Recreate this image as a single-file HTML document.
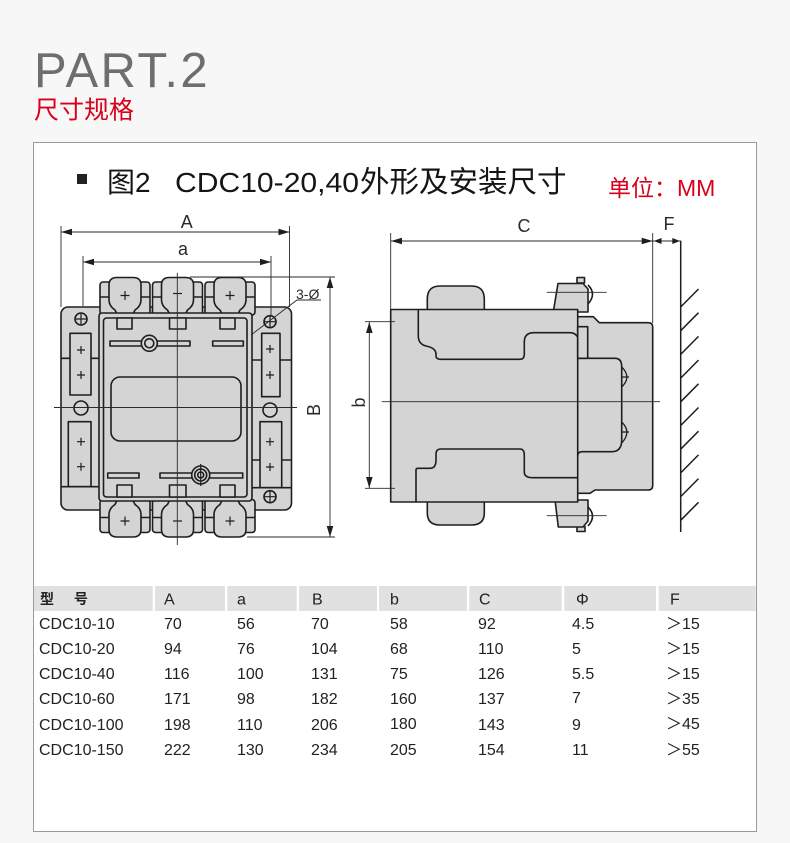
<!DOCTYPE html>
<html><head><meta charset="utf-8">
<style>
html,body{margin:0;padding:0;}
body{width:790px;height:843px;background:#f7f7f7;position:relative;overflow:hidden;}
svg{position:absolute;left:0;top:0;}
text{font-family:"Liberation Sans","Noto Sans CJK SC",sans-serif;}
</style></head><body>
<svg width="790" height="843" viewBox="0 0 790 843" xmlns="http://www.w3.org/2000/svg">
<!-- panel -->
<rect x="33.5" y="142.5" width="723" height="689" fill="#fff" stroke="#9a9a9a" stroke-width="1"/>

<!-- headings -->
<text x="34" y="87" font-size="49" fill="#6e6e6e" letter-spacing="2.4">PART.2</text>
<text x="34" y="118.5" font-size="25" fill="#d9001b">尺寸规格</text>
<rect x="77" y="174" width="10" height="10" fill="#222"/>
<text x="107" y="192" font-size="28" fill="#151515">图2</text>
<text x="175" y="192" font-size="28" fill="#151515" textLength="184" lengthAdjust="spacingAndGlyphs">CDC10-20,40</text>
<text x="360" y="192" font-size="29.5" fill="#151515">外形及安装尺寸</text>
<text x="608" y="196" font-size="23" fill="#d9001b">单位：MM</text>

<!-- ================= LEFT (front) VIEW ================= -->
<g fill="#d4d4d4" stroke="#1e1e1e" stroke-width="1.6" stroke-linejoin="round">
  <rect x="61" y="307" width="230.5" height="203" rx="7"/>
  <!-- top terminals -->
  <g transform="translate(125,0)">
    <rect x="-25" y="282" width="50" height="33" rx="3"/>
    <path d="M-16,300 V285 Q-16,277.5 -8,277.5 H8 Q16,277.5 16,285 V300 Q16,306 10,310 L8,314 H-8 L-10,310 Q-16,306 -16,300 Z"/>
    <path d="M-25,297 H-16 M16,297 H25" fill="none"/>
    <path d="M-4.5,295.5 H4.5 M0,291 V300" fill="none" stroke-width="1.2"/>
  </g>
  <g transform="translate(177.5,0)">
    <rect x="-25" y="282" width="50" height="33" rx="3"/>
    <path d="M-16,300 V285 Q-16,277.5 -8,277.5 H8 Q16,277.5 16,285 V300 Q16,306 10,310 L8,314 H-8 L-10,310 Q-16,306 -16,300 Z"/>
    <path d="M-25,297 H-16 M16,297 H25" fill="none"/>
    <path d="M-4.5,293.5 H4.5" fill="none" stroke-width="1.2"/>
  </g>
  <g transform="translate(230,0)">
    <rect x="-25" y="282" width="50" height="33" rx="3"/>
    <path d="M-16,300 V285 Q-16,277.5 -8,277.5 H8 Q16,277.5 16,285 V300 Q16,306 10,310 L8,314 H-8 L-10,310 Q-16,306 -16,300 Z"/>
    <path d="M-25,297 H-16 M16,297 H25" fill="none"/>
    <path d="M-4.5,295.5 H4.5 M0,291 V300" fill="none" stroke-width="1.2"/>
  </g>
  <!-- bottom terminals (mirrored) -->
  <g transform="translate(125,814.5) scale(1,-1)">
    <rect x="-25" y="282" width="50" height="33" rx="3"/>
    <path d="M-16,300 V285 Q-16,277.5 -8,277.5 H8 Q16,277.5 16,285 V300 Q16,306 10,310 L8,314 H-8 L-10,310 Q-16,306 -16,300 Z"/>
    <path d="M-25,297 H-16 M16,297 H25" fill="none"/>
    <path d="M-4.5,293.5 H4.5 M0,289 V298" fill="none" stroke-width="1.2"/>
  </g>
  <g transform="translate(177.5,814.5) scale(1,-1)">
    <rect x="-25" y="282" width="50" height="33" rx="3"/>
    <path d="M-16,300 V285 Q-16,277.5 -8,277.5 H8 Q16,277.5 16,285 V300 Q16,306 10,310 L8,314 H-8 L-10,310 Q-16,306 -16,300 Z"/>
    <path d="M-25,297 H-16 M16,297 H25" fill="none"/>
    <path d="M-4.5,293.5 H4.5" fill="none" stroke-width="1.2"/>
  </g>
  <g transform="translate(230,814.5) scale(1,-1)">
    <rect x="-25" y="282" width="50" height="33" rx="3"/>
    <path d="M-16,300 V285 Q-16,277.5 -8,277.5 H8 Q16,277.5 16,285 V300 Q16,306 10,310 L8,314 H-8 L-10,310 Q-16,306 -16,300 Z"/>
    <path d="M-25,297 H-16 M16,297 H25" fill="none"/>
    <path d="M-4.5,293.5 H4.5 M0,289 V298" fill="none" stroke-width="1.2"/>
  </g>

  <!-- main body -->
  <rect x="99" y="313" width="153" height="188" rx="3"/>
  <rect x="103.5" y="318" width="143.5" height="179" rx="3"/>
  <rect x="117" y="318" width="15" height="11"/>
  <rect x="169.5" y="318" width="16.5" height="11"/>
  <rect x="220" y="318" width="15" height="11"/>
  <rect x="117" y="485" width="15" height="12"/>
  <rect x="169.5" y="485" width="16.5" height="12"/>
  <rect x="220" y="485" width="15" height="12"/>
  <rect x="110" y="341" width="80" height="5"/>
  <rect x="212.7" y="341" width="30.6" height="5"/>
  <circle cx="149.3" cy="343.3" r="8"/>
  <circle cx="149.3" cy="343.3" r="4.5"/>
  <rect x="107.7" y="473" width="31.3" height="5"/>
  <rect x="160" y="473" width="82.7" height="5"/>
  <circle cx="200.7" cy="475" r="9"/>
  <circle cx="200.7" cy="475" r="6"/>
  <circle cx="200.7" cy="475" r="3"/>
  <rect x="111" y="377" width="130" height="64" rx="9"/>

  <!-- left column -->
  <rect x="70" y="333.3" width="21" height="61.7"/>
  <rect x="68.3" y="421.7" width="22.7" height="65"/>
  <path d="M61,358.3 H70 M91,358.3 H99 M61,486.7 H99" fill="none"/>
  <circle cx="81" cy="319" r="6"/>
  <circle cx="81" cy="408" r="7"/>
  <!-- right column -->
  <rect x="261.7" y="333.3" width="18.3" height="63.4"/>
  <rect x="260" y="421.7" width="21.7" height="66"/>
  <path d="M251.7,360 H261.7 M280,360 H291 M251.7,460 H260 M281.7,460 H291 M251.7,487.7 H291" fill="none"/>
  <circle cx="270" cy="321.7" r="6"/>
  <circle cx="270" cy="410" r="7"/>
  <circle cx="270" cy="496.7" r="6"/>
</g>
<g stroke="#1e1e1e" stroke-width="1.2" fill="none">
  <path d="M75,319 H87 M81,313 V325"/>
  <path d="M264,321.7 H276 M270,315.7 V327.7"/>
  <path d="M264,496.7 H276 M270,490.7 V502.7"/>
  <path d="M77,350 H85 M81,346 V354"/>
  <path d="M77,375 H85 M81,371 V379"/>
  <path d="M77,441.7 H85 M81,437.7 V445.7"/>
  <path d="M77,466.7 H85 M81,462.7 V470.7"/>
  <path d="M266,349 H274 M270,345 V353"/>
  <path d="M266,375 H274 M270,371 V379"/>
  <path d="M266,441.7 H274 M270,437.7 V445.7"/>
  <path d="M266,467 H274 M270,463 V471"/>
  <path d="M200.7,464 V486"/>
</g>
<!-- dimension / centre lines (left) -->
<g stroke="#2a2a2a" stroke-width="0.9" fill="none">
  <path d="M177.3,272.7 V545"/>
  <path d="M54,407.5 H297"/>
  <path d="M61,226 V307 M289.5,226 V307"/>
  <path d="M83,256 V306 M271,256 V316"/>
  <path d="M190,277 H335 M247,537 H335"/>
  <path d="M61,232 H289.5"/>
  <path d="M83,262 H271"/>
  <path d="M330,277 V537"/>
  <path d="M251,335 L297,300 H321"/>
</g>
<g fill="#1e1e1e">
  <polygon points="61,232 72,228.7 72,235.3"/>
  <polygon points="289.5,232 278.5,228.7 278.5,235.3"/>
  <polygon points="83,262 94,258.7 94,265.3"/>
  <polygon points="271,262 260,258.7 260,265.3"/>
  <polygon points="330,277 326.7,288 333.3,288"/>
  <polygon points="330,537 326.7,526 333.3,526"/>
</g>
<g fill="#2a2a2a" font-size="18">
  <text x="186.7" y="228" text-anchor="middle">A</text>
  <text x="183" y="255" text-anchor="middle">a</text>
  <text transform="translate(320,410) rotate(-90)" text-anchor="middle">B</text>
  <text x="296" y="299" font-size="14">3-Ø</text>
</g>

<!-- ================= RIGHT (side) VIEW ================= -->
<g fill="#d4d4d4" stroke="#1e1e1e" stroke-width="1.6" stroke-linejoin="round">
  <path d="M427.3,312 V299 Q427.3,286 440,286 H471.5 Q484.3,286 484.3,299 V312 Z"/>
  <path d="M427.3,500 V513 Q427.3,525 440,525 H471.5 Q484.3,525 484.3,513 V500 Z"/>
  <rect x="577" y="277.5" width="7.5" height="5.5"/>
  <path d="M553.3,312 L558,283.5 H583 L588,289 V312 Z"/>
  <path d="M588,285 Q597,294 588,304" fill="none"/>
  <rect x="577" y="526.5" width="8" height="5"/>
  <path d="M555,500 L558.3,527 H583 L588,521 V500 Z"/>
  <path d="M588,507 Q597,516 588,526" fill="none"/>
  <path d="M577.7,316.7 H593.3 L599.3,322.7 H648.3 Q652.7,322.7 652.7,327 V485.5 Q652.7,490 648,490 H595 L590,493.3 H577.7 Z"/>
  <rect x="390.7" y="309.5" width="187" height="192.5"/>
  <path d="M418.3,309.5 V336 Q418.3,344 426,346 Q436,348 436,354 V356 Q436,359.3 441,359.3 H520 Q524.3,359.3 524.3,354 V342 Q524.3,332.7 534,332.7 H570 Q575,332.7 577.7,337" fill="none"/>
  <path d="M416,502 V470 Q416,468.3 418,468.3 H430 Q436,468.3 436,460 V454 Q436,449 441,449 H520 Q524.3,449 524.3,455 V472 Q524.3,477.7 533,477.7 H577.7" fill="none"/>
  <rect x="577.7" y="326.7" width="10" height="31.6"/>
  <path d="M577.7,358.3 H615 Q621.7,358.3 621.7,366.7 V440 Q621.7,451.7 611.7,451.7 H582 Q577.7,451.7 577.7,456" fill="none"/>
  <path d="M621.7,367 Q632,377 621.7,387 M621.7,377 L629,377" fill="none" stroke-width="1.3"/>
  <path d="M621.7,422 Q632,432 621.7,443 M621.7,432 L629,432" fill="none" stroke-width="1.3"/>
</g>
<g stroke="#2a2a2a" stroke-width="0.9" fill="none">
  <path d="M391,241 H652.7"/>
  <path d="M390.7,233 V309.5 M652.7,233 V323"/>
  <path d="M652.7,241 H680.7"/>
  <path d="M381.7,401.7 H660"/>
  <path d="M369.3,322 V488"/>
  <path d="M365,321.7 H395 M365,488.3 H395"/>
  <path d="M546.7,292.3 H606.7 M546.7,515.7 H606.7"/>
</g>
<g stroke="#1e1e1e" stroke-width="1.5" fill="none">
  <path d="M680.7,240.7 V532"/>
  <path d="M680.7,307 L698.5,289 M680.7,330.7 L698.5,312.7 M680.7,354.4 L698.5,336.4 M680.7,378.1 L698.5,360.1 M680.7,401.8 L698.5,383.8 M680.7,425.5 L698.5,407.5 M680.7,449.2 L698.5,431.2 M680.7,472.9 L698.5,454.9 M680.7,496.6 L698.5,478.6 M680.7,520.3 L698.5,502.3"/>
</g>
<g fill="#1e1e1e">
  <polygon points="391,241 402,237.7 402,244.3"/>
  <polygon points="652.7,241 641.7,237.7 641.7,244.3"/>
  <polygon points="653.8,241 661.5,238 661.5,244"/>
  <polygon points="680,241 672.3,238 672.3,244"/>
  <polygon points="369.3,322 366,333 372.6,333"/>
  <polygon points="369.3,488 366,477 372.6,477"/>
</g>
<g fill="#2a2a2a" font-size="18">
  <text x="524" y="232" text-anchor="middle">C</text>
  <text x="669" y="230" text-anchor="middle">F</text>
  <text transform="translate(365,402.5) rotate(-90)" text-anchor="middle">b</text>
</g>

<!-- ================= TABLE ================= -->
<g fill="#e1e1e1">
  <rect x="34" y="586" width="118.7" height="25"/>
  <rect x="155" y="586" width="70" height="25"/>
  <rect x="227.3" y="586" width="69.4" height="25"/>
  <rect x="299" y="586" width="78" height="25"/>
  <rect x="379" y="586" width="88" height="25"/>
  <rect x="469.3" y="586" width="92.4" height="25"/>
  <rect x="564.3" y="586" width="91.7" height="25"/>
  <rect x="658.7" y="586" width="97" height="25"/>
</g>
<g fill="#222" font-size="16">
  <text x="40" y="604" font-size="14" font-weight="bold">型</text>
  <text x="74" y="604" font-size="14" font-weight="bold">号</text>
  <text x="164" y="604.5">A</text>
  <text x="237" y="604.5">a</text>
  <text x="312" y="604.5">B</text>
  <text x="390" y="604.5">b</text>
  <text x="479" y="604.5">C</text>
  <text x="576" y="604.5">Φ</text>
  <text x="670" y="604.5">F</text>

  <text x="39" y="629">CDC10-10</text><text x="164" y="629">70</text><text x="237" y="629">56</text><text x="311" y="629">70</text><text x="390" y="629">58</text><text x="478" y="629">92</text><text x="572" y="629">4.5</text><text x="666" y="629">＞15</text>
  <text x="39" y="654">CDC10-20</text><text x="164" y="654">94</text><text x="237" y="654">76</text><text x="311" y="654">104</text><text x="390" y="654">68</text><text x="478" y="654">110</text><text x="572" y="654">5</text><text x="666" y="654">＞15</text>
  <text x="39" y="679">CDC10-40</text><text x="164" y="679">116</text><text x="237" y="679">100</text><text x="311" y="679">131</text><text x="390" y="679">75</text><text x="478" y="679">126</text><text x="572" y="679">5.5</text><text x="666" y="679">＞15</text>
  <text x="39" y="704">CDC10-60</text><text x="164" y="704">171</text><text x="237" y="704">98</text><text x="311" y="704">182</text><text x="390" y="704">160</text><text x="478" y="704">137</text><text x="572" y="703">7</text><text x="666" y="704">＞35</text>
  <text x="39" y="730">CDC10-100</text><text x="164" y="730">198</text><text x="237" y="730">110</text><text x="311" y="730">206</text><text x="390" y="729">180</text><text x="478" y="730">143</text><text x="572" y="730">9</text><text x="666" y="729">＞45</text>
  <text x="39" y="755">CDC10-150</text><text x="164" y="755">222</text><text x="237" y="755">130</text><text x="311" y="755">234</text><text x="390" y="755">205</text><text x="478" y="755">154</text><text x="572" y="755">11</text><text x="666" y="755">＞55</text>
</g>
</svg>
</body></html>
